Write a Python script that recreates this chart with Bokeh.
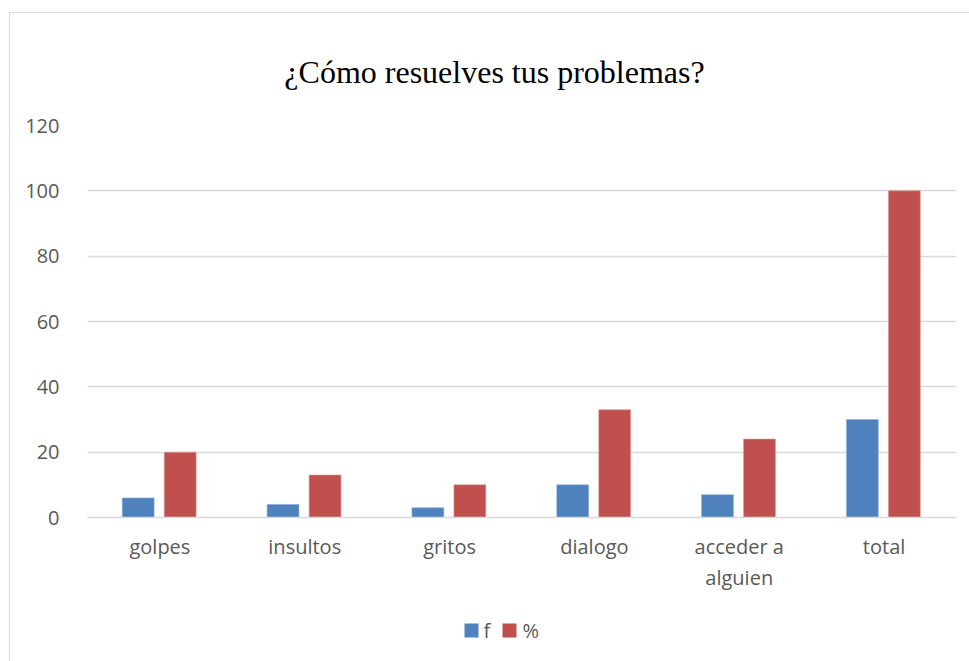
from bokeh.plotting import figure
from bokeh.layouts import column
from bokeh.models import ColumnDataSource, FactorRange, Range1d, FixedTicker
from bokeh.core.properties import value
from bokeh.transform import dodge
from bokeh.embed import file_html
from bokeh.resources import INLINE

categories = ["golpes", "insultos", "gritos", "dialogo", "acceder a\nalguien", "total"]
f_values = [6, 4, 3, 10, 7, 30]
pct_values = [20, 13, 10, 33, 24, 100]
y_ticks = [0, 20, 40, 60, 80, 100, 120]
series_names = ["f", "%"]
series_colors = ["#4F81BD", "#C0504D"]
title_text = "¿Cómo resuelves tus problemas?"

W = 960
BORDER_L, BORDER_R = 77, 14
# page x of the frame (column offset 9 + 1px border)
FX0 = 10 + BORDER_L
FX1 = 10 + W - BORDER_R


def blank_fig(h):
    # frames in a column are aligned with the main plot, so map the frame to page pixels
    f = figure(width=W, height=h, x_range=Range1d(FX0, FX1), y_range=Range1d(0, h),
               x_axis_location=None, y_axis_location=None,
               output_backend="svg", toolbar_location=None,
               min_border_left=BORDER_L, min_border_right=BORDER_R,
               min_border_top=0, min_border_bottom=0)
    f.grid.visible = False
    f.outline_line_color = None
    f.border_fill_color = "white"
    f.background_fill_color = "white"
    return f


# title strip
head = blank_fig(92)
head.text(x=[494], y=[34], text=[title_text], text_font=value("Liberation Serif"),
          text_font_size="32px", text_color="black", text_align="center", text_baseline="middle")

# main chart
source = ColumnDataSource(data=dict(cat=categories, f=f_values, pct=pct_values))
p = figure(
    x_range=FactorRange(*categories, range_padding=0),
    y_range=Range1d(0, 120),
    width=W, height=496,
    output_backend="svg", toolbar_location=None,
    min_border_left=BORDER_L, min_border_right=BORDER_R, min_border_top=20, min_border_bottom=84,
)
p.outline_line_color = None
p.background_fill_color = "white"
p.border_fill_color = "white"

p.vbar(x=dodge("cat", -0.15, range=p.x_range), top="f", width=0.22, source=source,
       fill_color=series_colors[0], line_color="#8FB0D8", line_width=0.6)
p.vbar(x=dodge("cat", 0.14, range=p.x_range), top="pct", width=0.22, source=source,
       fill_color=series_colors[1], line_color="#DA9896", line_width=0.6)

p.xgrid.grid_line_color = None
p.ygrid.grid_line_color = "#D9D9D9"
p.ygrid.grid_line_width = 1.5
p.yaxis.ticker = FixedTicker(ticks=y_ticks)

for ax in (p.xaxis, p.yaxis):
    ax.major_tick_line_color = None
    ax.minor_tick_line_color = None
    ax.major_label_text_font = "Open Sans"
    ax.major_label_text_font_size = "20px"
    ax.major_label_text_color = "#595959"
p.yaxis.axis_line_color = None
p.yaxis.major_label_standoff = 22
p.xaxis.axis_line_color = "#D9D9D9"
p.xaxis.axis_line_width = 1.5
p.xaxis.major_label_standoff = 9
p.xaxis.major_label_text_line_height = 1.15

# legend strip
leg = blank_fig(61)
sq_x = [471, 509]
lab_x = [483, 522]
leg.rect(x=sq_x, y=[32, 32], width=14, height=14, fill_color=series_colors, line_color=None)
leg.text(x=lab_x, y=[32, 32], text=series_names, text_font=value("Open Sans"),
         text_font_size="20px", text_color="#595959", text_align="left", text_baseline="middle")

layout = column(head, p, leg, spacing=0)
layout.margin = (12, 0, 0, 9)
layout.styles = {"border-left": "1px solid #D9D9D9", "border-top": "1px solid #D9D9D9"}

open("out.html", "w").write(file_html(layout, INLINE))
